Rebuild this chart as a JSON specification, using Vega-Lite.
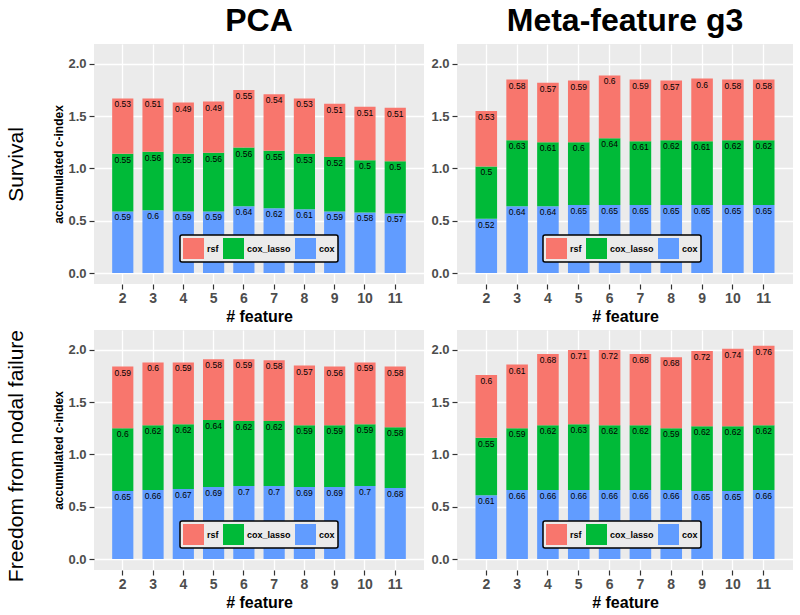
{
  "$schema": "https://vega.github.io/schema/vega-lite/v6.json",
  "padding": {"left": 5, "top": 5, "right": 7, "bottom": 0},
  "background": "white",
  "datasets": {
    "pca_surv": [
      {"n":2,"s":"cox","v":0.59},{"n":3,"s":"cox","v":0.6},{"n":4,"s":"cox","v":0.59},{"n":5,"s":"cox","v":0.59},{"n":6,"s":"cox","v":0.64},{"n":7,"s":"cox","v":0.62},{"n":8,"s":"cox","v":0.61},{"n":9,"s":"cox","v":0.59},{"n":10,"s":"cox","v":0.58},{"n":11,"s":"cox","v":0.57},
      {"n":2,"s":"cox_lasso","v":0.55},{"n":3,"s":"cox_lasso","v":0.56},{"n":4,"s":"cox_lasso","v":0.55},{"n":5,"s":"cox_lasso","v":0.56},{"n":6,"s":"cox_lasso","v":0.56},{"n":7,"s":"cox_lasso","v":0.55},{"n":8,"s":"cox_lasso","v":0.53},{"n":9,"s":"cox_lasso","v":0.52},{"n":10,"s":"cox_lasso","v":0.5},{"n":11,"s":"cox_lasso","v":0.5},
      {"n":2,"s":"rsf","v":0.53},{"n":3,"s":"rsf","v":0.51},{"n":4,"s":"rsf","v":0.49},{"n":5,"s":"rsf","v":0.49},{"n":6,"s":"rsf","v":0.55},{"n":7,"s":"rsf","v":0.54},{"n":8,"s":"rsf","v":0.53},{"n":9,"s":"rsf","v":0.51},{"n":10,"s":"rsf","v":0.51},{"n":11,"s":"rsf","v":0.51}
    ],
    "meta_surv": [
      {"n":2,"s":"cox","v":0.52},{"n":3,"s":"cox","v":0.64},{"n":4,"s":"cox","v":0.64},{"n":5,"s":"cox","v":0.65},{"n":6,"s":"cox","v":0.65},{"n":7,"s":"cox","v":0.65},{"n":8,"s":"cox","v":0.65},{"n":9,"s":"cox","v":0.65},{"n":10,"s":"cox","v":0.65},{"n":11,"s":"cox","v":0.65},
      {"n":2,"s":"cox_lasso","v":0.5},{"n":3,"s":"cox_lasso","v":0.63},{"n":4,"s":"cox_lasso","v":0.61},{"n":5,"s":"cox_lasso","v":0.6},{"n":6,"s":"cox_lasso","v":0.64},{"n":7,"s":"cox_lasso","v":0.61},{"n":8,"s":"cox_lasso","v":0.62},{"n":9,"s":"cox_lasso","v":0.61},{"n":10,"s":"cox_lasso","v":0.62},{"n":11,"s":"cox_lasso","v":0.62},
      {"n":2,"s":"rsf","v":0.53},{"n":3,"s":"rsf","v":0.58},{"n":4,"s":"rsf","v":0.57},{"n":5,"s":"rsf","v":0.59},{"n":6,"s":"rsf","v":0.6},{"n":7,"s":"rsf","v":0.59},{"n":8,"s":"rsf","v":0.57},{"n":9,"s":"rsf","v":0.6},{"n":10,"s":"rsf","v":0.58},{"n":11,"s":"rsf","v":0.58}
    ],
    "pca_ffnf": [
      {"n":2,"s":"cox","v":0.65},{"n":3,"s":"cox","v":0.66},{"n":4,"s":"cox","v":0.67},{"n":5,"s":"cox","v":0.69},{"n":6,"s":"cox","v":0.7},{"n":7,"s":"cox","v":0.7},{"n":8,"s":"cox","v":0.69},{"n":9,"s":"cox","v":0.69},{"n":10,"s":"cox","v":0.7},{"n":11,"s":"cox","v":0.68},
      {"n":2,"s":"cox_lasso","v":0.6},{"n":3,"s":"cox_lasso","v":0.62},{"n":4,"s":"cox_lasso","v":0.62},{"n":5,"s":"cox_lasso","v":0.64},{"n":6,"s":"cox_lasso","v":0.62},{"n":7,"s":"cox_lasso","v":0.62},{"n":8,"s":"cox_lasso","v":0.59},{"n":9,"s":"cox_lasso","v":0.59},{"n":10,"s":"cox_lasso","v":0.59},{"n":11,"s":"cox_lasso","v":0.58},
      {"n":2,"s":"rsf","v":0.59},{"n":3,"s":"rsf","v":0.6},{"n":4,"s":"rsf","v":0.59},{"n":5,"s":"rsf","v":0.58},{"n":6,"s":"rsf","v":0.59},{"n":7,"s":"rsf","v":0.58},{"n":8,"s":"rsf","v":0.57},{"n":9,"s":"rsf","v":0.56},{"n":10,"s":"rsf","v":0.59},{"n":11,"s":"rsf","v":0.58}
    ],
    "meta_ffnf": [
      {"n":2,"s":"cox","v":0.61},{"n":3,"s":"cox","v":0.66},{"n":4,"s":"cox","v":0.66},{"n":5,"s":"cox","v":0.66},{"n":6,"s":"cox","v":0.66},{"n":7,"s":"cox","v":0.66},{"n":8,"s":"cox","v":0.66},{"n":9,"s":"cox","v":0.65},{"n":10,"s":"cox","v":0.65},{"n":11,"s":"cox","v":0.66},
      {"n":2,"s":"cox_lasso","v":0.55},{"n":3,"s":"cox_lasso","v":0.59},{"n":4,"s":"cox_lasso","v":0.62},{"n":5,"s":"cox_lasso","v":0.63},{"n":6,"s":"cox_lasso","v":0.62},{"n":7,"s":"cox_lasso","v":0.62},{"n":8,"s":"cox_lasso","v":0.59},{"n":9,"s":"cox_lasso","v":0.62},{"n":10,"s":"cox_lasso","v":0.62},{"n":11,"s":"cox_lasso","v":0.62},
      {"n":2,"s":"rsf","v":0.6},{"n":3,"s":"rsf","v":0.61},{"n":4,"s":"rsf","v":0.68},{"n":5,"s":"rsf","v":0.71},{"n":6,"s":"rsf","v":0.72},{"n":7,"s":"rsf","v":0.68},{"n":8,"s":"rsf","v":0.68},{"n":9,"s":"rsf","v":0.72},{"n":10,"s":"rsf","v":0.74},{"n":11,"s":"rsf","v":0.76}
    ]
  },
  "vconcat": [
    {
      "title": {"text": "Survival", "orient": "left", "anchor": "middle", "fontSize": 21, "fontWeight": "normal", "offset": 26},
      "hconcat": [
        {
          "width": 330, "height": 240,
          "data": {"name": "pca_surv"},
          "title": {"text": "PCA"},
          "encoding": {"x": {"field": "n", "type": "ordinal", "scale": {"paddingInner": 0.3, "paddingOuter": 0.6}, "axis": {"title": "# feature", "labelAngle": 0, "grid": true, "bandPosition": 0.5}}},
          "layer": [
            {"mark": {"type": "bar"}, "encoding": {
              "y": {"field": "v", "type": "quantitative", "stack": "zero", "scale": {"domain": [-0.104, 2.19], "nice": false, "zero": false}, "axis": {"values": [0, 0.5, 1, 1.5, 2], "format": ".1f", "title": "accumulated c-index"}},
              "color": {"field": "s", "type": "nominal", "scale": {"domain": ["rsf", "cox_lasso", "cox"], "range": ["#F8766D", "#00BA38", "#619CFF"]}, "legend": {"legendX": 86, "legendY": 191}},
              "order": {"field": "s", "sort": "ascending"}}},
            {"mark": {"type": "text", "baseline": "top", "dy": 2, "fontSize": 8.5, "fill": "black"}, "encoding": {
              "y": {"field": "v", "type": "quantitative", "stack": "zero", "axis": {"orient": "right", "values": [0.25, 0.75, 1.25, 1.75], "labels": false, "ticks": false, "domain": false, "title": null, "gridWidth": 0.6, "minExtent": 0, "maxExtent": 0}},
              "text": {"field": "v", "type": "nominal"},
              "detail": {"field": "s", "type": "nominal"},
              "order": {"field": "s", "sort": "ascending"}}}
          ],
          "resolve": {"axis": {"y": "independent"}}
        },
        {
          "width": 336, "height": 240,
          "data": {"name": "meta_surv"},
          "title": {"text": "Meta-feature g3"},
          "encoding": {"x": {"field": "n", "type": "ordinal", "scale": {"paddingInner": 0.3, "paddingOuter": 0.6}, "axis": {"title": "# feature", "labelAngle": 0, "grid": true, "bandPosition": 0.5}}},
          "layer": [
            {"mark": {"type": "bar"}, "encoding": {
              "y": {"field": "v", "type": "quantitative", "stack": "zero", "scale": {"domain": [-0.104, 2.19], "nice": false, "zero": false}, "axis": {"values": [0, 0.5, 1, 1.5, 2], "format": ".1f", "title": null}},
              "color": {"field": "s", "type": "nominal", "scale": {"domain": ["rsf", "cox_lasso", "cox"], "range": ["#F8766D", "#00BA38", "#619CFF"]}, "legend": {"legendX": 86, "legendY": 191}},
              "order": {"field": "s", "sort": "ascending"}}},
            {"mark": {"type": "text", "baseline": "top", "dy": 2, "fontSize": 8.5, "fill": "black"}, "encoding": {
              "y": {"field": "v", "type": "quantitative", "stack": "zero", "axis": {"orient": "right", "values": [0.25, 0.75, 1.25, 1.75], "labels": false, "ticks": false, "domain": false, "title": null, "gridWidth": 0.6, "minExtent": 0, "maxExtent": 0}},
              "text": {"field": "v", "type": "nominal"},
              "detail": {"field": "s", "type": "nominal"},
              "order": {"field": "s", "sort": "ascending"}}}
          ],
          "resolve": {"axis": {"y": "independent"}}
        }
      ],
      "spacing": 6,
      "resolve": {"legend": {"color": "independent"}}
    },
    {
      "title": {"text": "Freedom from nodal failure", "orient": "left", "anchor": "end", "fontSize": 21, "fontWeight": "normal", "offset": 26},
      "hconcat": [
        {
          "width": 330, "height": 240,
          "data": {"name": "pca_ffnf"},
          "encoding": {"x": {"field": "n", "type": "ordinal", "scale": {"paddingInner": 0.3, "paddingOuter": 0.6}, "axis": {"title": "# feature", "labelAngle": 0, "grid": true, "bandPosition": 0.5}}},
          "layer": [
            {"mark": {"type": "bar"}, "encoding": {
              "y": {"field": "v", "type": "quantitative", "stack": "zero", "scale": {"domain": [-0.104, 2.19], "nice": false, "zero": false}, "axis": {"values": [0, 0.5, 1, 1.5, 2], "format": ".1f", "title": "accumulated c-index"}},
              "color": {"field": "s", "type": "nominal", "scale": {"domain": ["rsf", "cox_lasso", "cox"], "range": ["#F8766D", "#00BA38", "#619CFF"]}, "legend": {"legendX": 86, "legendY": 191}},
              "order": {"field": "s", "sort": "ascending"}}},
            {"mark": {"type": "text", "baseline": "top", "dy": 2, "fontSize": 8.5, "fill": "black"}, "encoding": {
              "y": {"field": "v", "type": "quantitative", "stack": "zero", "axis": {"orient": "right", "values": [0.25, 0.75, 1.25, 1.75], "labels": false, "ticks": false, "domain": false, "title": null, "gridWidth": 0.6, "minExtent": 0, "maxExtent": 0}},
              "text": {"field": "v", "type": "nominal"},
              "detail": {"field": "s", "type": "nominal"},
              "order": {"field": "s", "sort": "ascending"}}}
          ],
          "resolve": {"axis": {"y": "independent"}}
        },
        {
          "width": 336, "height": 240,
          "data": {"name": "meta_ffnf"},
          "encoding": {"x": {"field": "n", "type": "ordinal", "scale": {"paddingInner": 0.3, "paddingOuter": 0.6}, "axis": {"title": "# feature", "labelAngle": 0, "grid": true, "bandPosition": 0.5}}},
          "layer": [
            {"mark": {"type": "bar"}, "encoding": {
              "y": {"field": "v", "type": "quantitative", "stack": "zero", "scale": {"domain": [-0.104, 2.19], "nice": false, "zero": false}, "axis": {"values": [0, 0.5, 1, 1.5, 2], "format": ".1f", "title": null}},
              "color": {"field": "s", "type": "nominal", "scale": {"domain": ["rsf", "cox_lasso", "cox"], "range": ["#F8766D", "#00BA38", "#619CFF"]}, "legend": {"legendX": 86, "legendY": 191}},
              "order": {"field": "s", "sort": "ascending"}}},
            {"mark": {"type": "text", "baseline": "top", "dy": 2, "fontSize": 8.5, "fill": "black"}, "encoding": {
              "y": {"field": "v", "type": "quantitative", "stack": "zero", "axis": {"orient": "right", "values": [0.25, 0.75, 1.25, 1.75], "labels": false, "ticks": false, "domain": false, "title": null, "gridWidth": 0.6, "minExtent": 0, "maxExtent": 0}},
              "text": {"field": "v", "type": "nominal"},
              "detail": {"field": "s", "type": "nominal"},
              "order": {"field": "s", "sort": "ascending"}}}
          ],
          "resolve": {"axis": {"y": "independent"}}
        }
      ],
      "spacing": 6,
      "resolve": {"legend": {"color": "independent"}}
    }
  ],
  "spacing": 6,
  "resolve": {"legend": {"color": "independent"}},
  "config": {
    "font": "Liberation Sans",
    "view": {"fill": "#EBEBEB", "stroke": null},
    "axis": {"domain": false, "grid": true, "gridColor": "white", "gridWidth": 1.3, "tickColor": "#333333", "tickSize": 5, "tickWidth": 1.2, "labelColor": "#4D4D4D", "labelFontWeight": "bold", "labelPadding": 3, "titleFontWeight": "bold", "titleColor": "black"},
    "axisX": {"labelFontSize": 14, "titleFontSize": 16, "titlePadding": 3, "labelPadding": 2},
    "axisY": {"labelFontSize": 13, "titleFontSize": 12, "titlePadding": 2},
    "legend": {"orient": "none", "direction": "horizontal", "title": null, "symbolType": "square", "symbolSize": 441, "symbolStrokeWidth": 0, "symbolOpacity": 1, "labelFontSize": 9, "labelFontWeight": "bold", "labelColor": "black", "labelOffset": 3, "columnPadding": 4, "padding": 3, "strokeColor": "black", "strokeWidth": 1.5, "fillColor": "#EBEBEB", "cornerRadius": 2},
    "title": {"font": "Liberation Sans", "fontSize": 32, "fontWeight": "bold", "color": "black", "anchor": "middle", "offset": 6}
  }
}
